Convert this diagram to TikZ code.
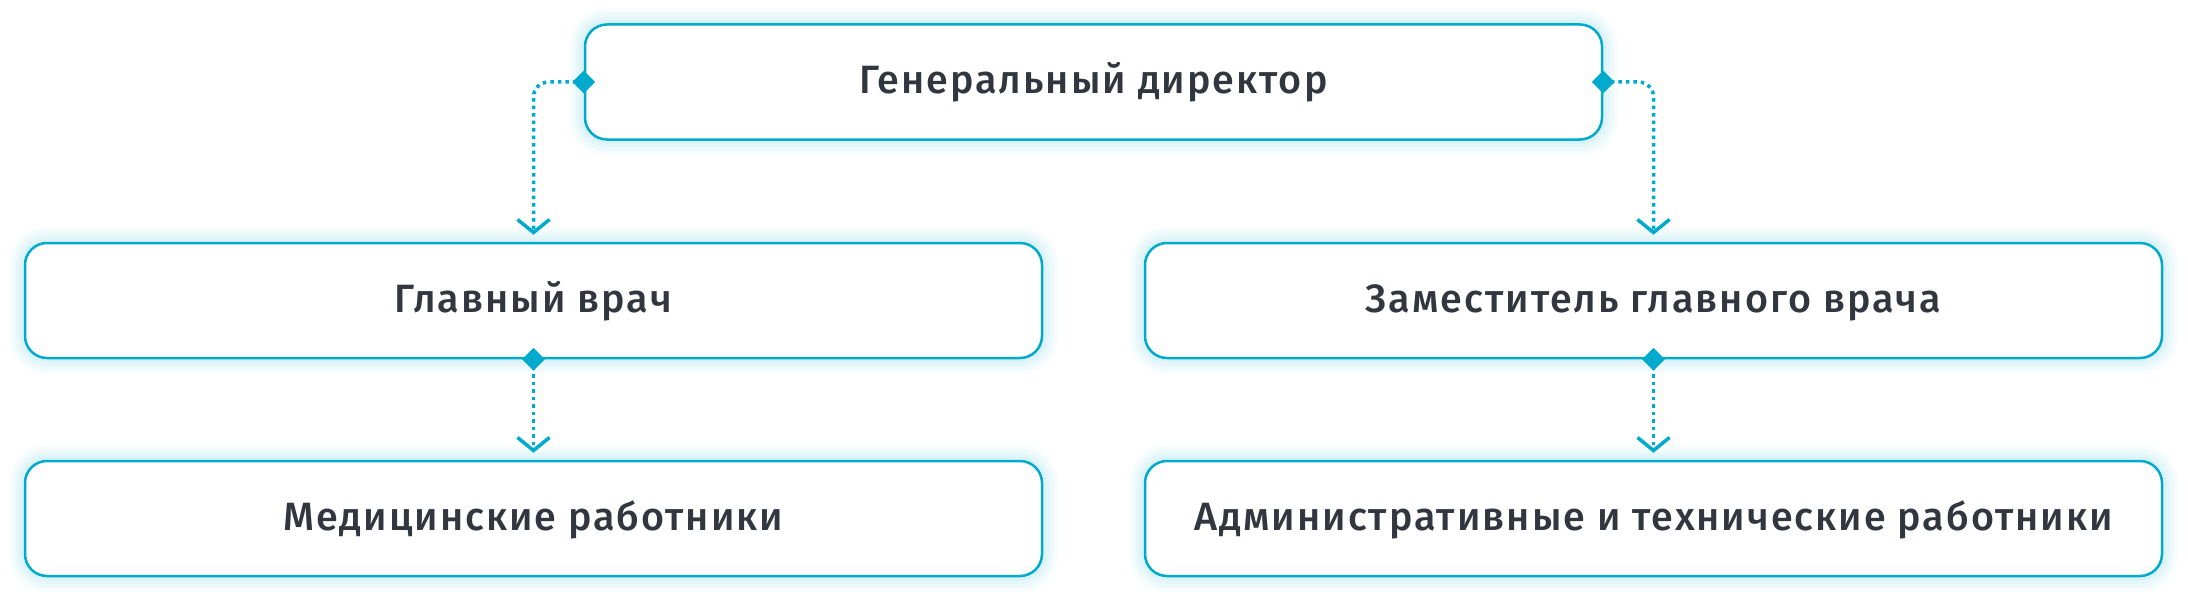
\documentclass[tikz,border=0pt]{standalone}
\usepackage{fontspec}
\setmainfont{Fira Sans}[UprightFont={* Medium},LetterSpace=5]
\usetikzlibrary{arrows.meta,shapes.geometric}
\definecolor{cy}{RGB}{0,170,204}
\definecolor{txt}{RGB}{50,54,63}
\begin{document}
\begin{tikzpicture}[x=1pt,y=-1pt,
  box/.style={rectangle, rounded corners=22pt, draw=cy, line width=2.5pt, fill=white,
    minimum width=1017pt, minimum height=115pt, inner sep=0pt, text=txt,
    font=\fontsize{39.5}{44}\selectfont, text height=31pt, text depth=7.8pt,
    preaction={draw=cy, draw opacity=0.03, line width=32pt},
    preaction={draw=cy, draw opacity=0.035, line width=24pt},
    preaction={draw=cy, draw opacity=0.04, line width=16pt},
    preaction={draw=cy, draw opacity=0.045, line width=9pt}},
  knob/.style={diamond, fill=cy, inner sep=0pt, minimum width=23pt, minimum height=23pt},
  link/.style={draw=cy, line width=3.5pt, dash pattern=on 3.5pt off 4pt, rounded corners=15pt,
    shorten >=7pt, -{Straight Barb[length=13pt,width=32pt,line width=3.5pt]}}
]
\useasboundingbox (0,0) rectangle (2188,602);
\node[box] (gd) at (1093.5,82) {Генеральный директор};
\node[box] (gv) at (533.5,300.5) {Главный врач};
\node[box] (zg) at (1653.5,300.5) {Заместитель главного врача};
\node[box] (mr) at (533.5,518.5) {Медицинские работники};
\node[box] (at) at (1653.5,518.5) {Административные и технические работники};
\draw[link] (gd.west) -| (gv.north);
\draw[link] (gd.east) -| (zg.north);
\draw[link] (gv.south) -- (mr.north);
\draw[link] (zg.south) -- (at.north);
\node[knob] (k1) at (gd.west) {};
\node[knob] (k2) at (gd.east) {};
\node[knob] (k3) at (gv.south) {};
\node[knob] (k4) at (zg.south) {};
\end{tikzpicture}
\end{document}
